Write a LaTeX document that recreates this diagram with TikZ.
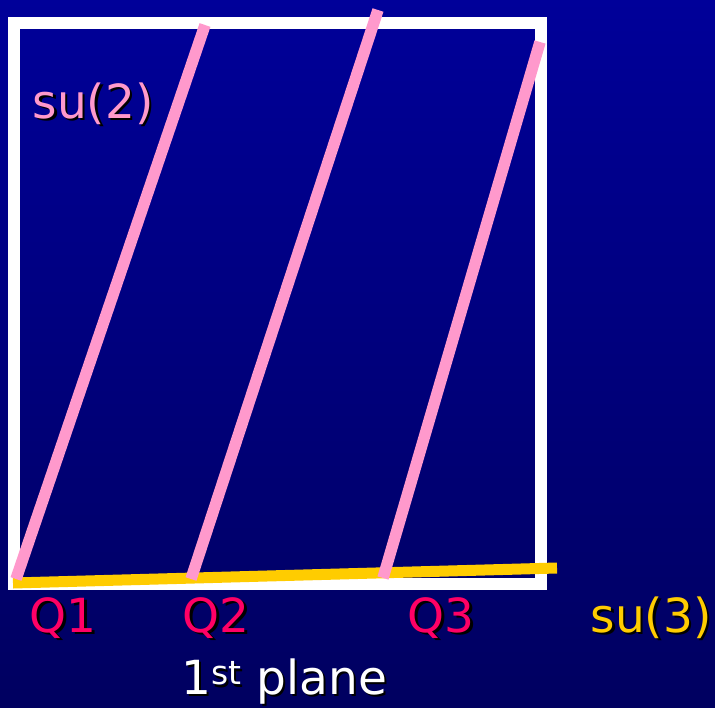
\documentclass[tikz,border=0pt]{standalone}
\usepackage{fontspec}
\setmainfont{DejaVu Sans}
\usetikzlibrary{calc}
\definecolor{bgtop}{HTML}{000099}
\definecolor{bgbot}{HTML}{000060}
\definecolor{sutwo}{HTML}{FF99CC}
\definecolor{suthree}{HTML}{FFCC00}
\definecolor{qred}{HTML}{FF0066}
\newcommand\drop[1]{\makebox[0pt][l]{\hspace{2.5pt}\raisebox{-2.5pt}{\color{black}#1}}#1}

\begin{document}
\begin{tikzpicture}[x=1pt,y=-1pt,font=\fontsize{47}{50}\selectfont,
  lbl/.style={inner sep=0pt,anchor=base}]
 \useasboundingbox(0,0)rectangle(715,707);
 \shade[top color=bgtop,middle color=bgtop!96!bgbot,bottom color=bgbot](0,0)rectangle(715,707);
 % the plane
 \draw[white,line width=12pt](14,23)rectangle(541,584);
 % su(3) line
 \coordinate(c0)at(13,583);\coordinate(c1)at(557,568);
 \draw[suthree,line width=11pt](c0)--(c1);
 % su(2) lines
 \coordinate(a1)at(16,579);\coordinate(b1)at(205,25);
 \coordinate(a2)at(191,579);\coordinate(b2)at(378,10);
 \coordinate(a3)at(383,578);\coordinate(b3)at(540,42);
 \foreach \i in {1,2,3}
  \draw[sutwo,line width=11.5pt](a\i)--(b\i);
 \node[lbl,text=sutwo](sutwolbl)at(93,118){\drop{su(2)}};
 \node[lbl,text=qred](q1)at(63,632){\drop{Q1}};
 \node[lbl,text=qred](q2)at(216,632){\drop{Q2}};
 \node[lbl,text=qred](q3)at(441,632){\drop{Q3}};
 \node[lbl,text=suthree](suthreelbl)at(651,632){\drop{su(3)}};
 \node[lbl,text=white](plane)at(284,694){\drop{1\textsuperscript{st} plane}};
\end{tikzpicture}
\end{document}
